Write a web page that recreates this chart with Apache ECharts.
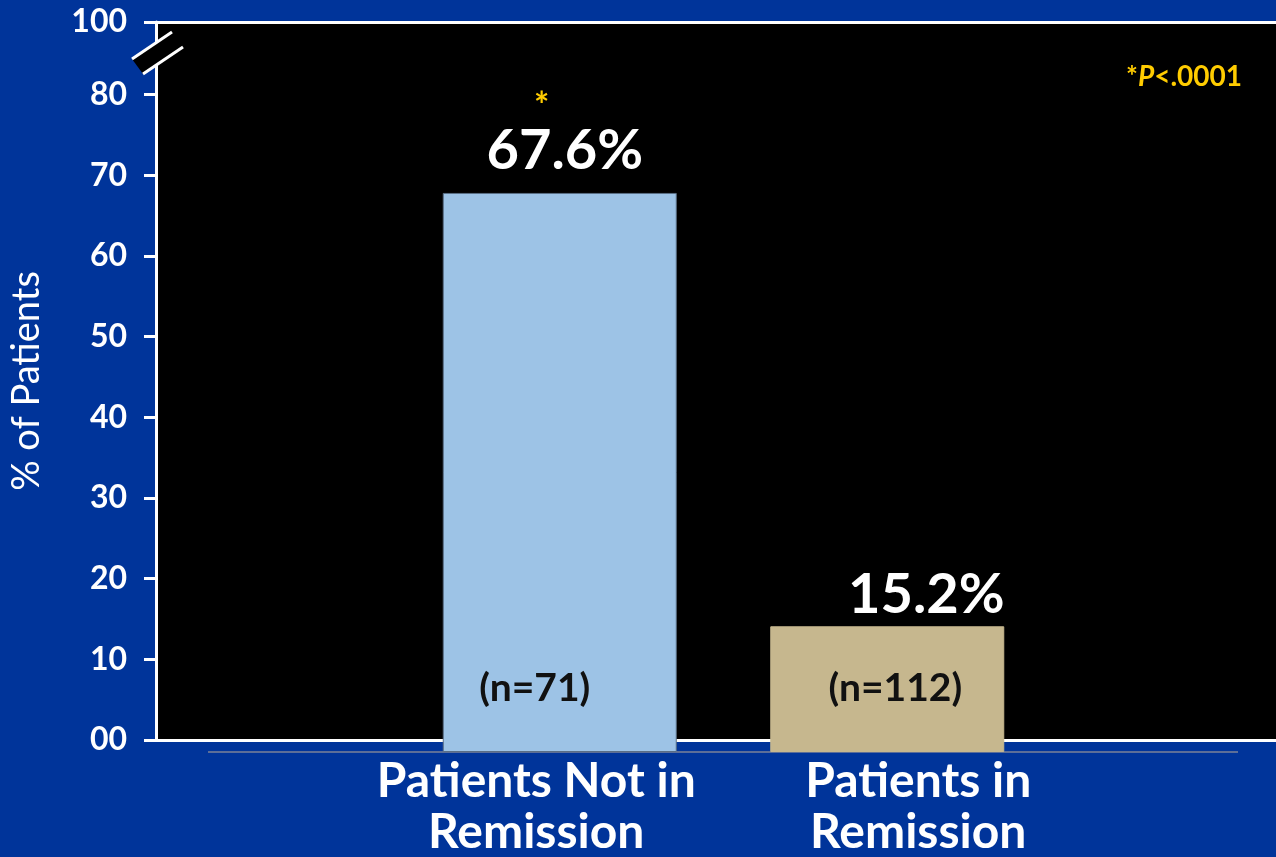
<!DOCTYPE html>
<html>
<head>
<meta charset="utf-8">
<script src="https://cdn.jsdelivr.net/npm/echarts@6/dist/echarts.min.js"></script>
<style>
  html, body { margin: 0; padding: 0; background: #00349A; }
  #chart { width: 1276px; height: 857px; }
</style>
</head>
<body>
<div id="chart"></div>
<script>
// Share of patients, by remission status
const categories = ['Patients Not in\nRemission', 'Patients in\nRemission'];
const percentPatients = [67.6, 15.2];
const sampleSizes = ['(n=71)', '(n=112)'];
const significance = ['*', ''];

// Y axis ticks below the break, and the label above it
const yTickValues = [0, 10, 20, 30, 40, 50, 60, 70, 80];
const yTickLabels = ['00', '10', '20', '30', '40', '50', '60', '70', '80'];
const yTopLabel = '100';

const FONT = 'Lato, "Open Sans", sans-serif';
const WHITE = '#FFFFFF';
const GOLD = '#FFCC00';
const barColors = ['#9DC3E6', '#C6B78E'];
const barBorders = ['#5B6F85', '#C6B78E'];

// Axis value where the compressed top (the "100" mark) sits
const AXIS_TOP = 89;

const chart = echarts.init(document.getElementById('chart'), null, { renderer: 'canvas' });

const tickValuesAll = yTickValues.concat([AXIS_TOP]);

const valueLabelShift = [5, 39];
const valueLabelDistance = [12, 1];
const countLabelShift = [-25, 8];

const option = {
  backgroundColor: '#00349A',
  animation: false,
  textStyle: { fontFamily: FONT },
  title: {
    text: '{s|*}{p|P}{s|<.0001}',
    right: 29,
    top: 58,
    textStyle: {
      rich: {
        s: { color: GOLD, fontSize: 28, fontWeight: 'bold', fontFamily: FONT },
        p: { color: GOLD, fontSize: 28, fontWeight: 'bold', fontStyle: 'italic', fontFamily: FONT }
      }
    }
  },
  grid: [
    // framed axis area with black background
    { left: 156, top: 22, right: 0, bottom: 117, show: true, backgroundColor: '#000000', borderWidth: 0, outerBoundsMode: 'none' },
    // bar area
    { left: 396, width: 655, top: 90.4, bottom: 105, outerBoundsMode: 'none' }
  ],
  xAxis: [
    {
      gridIndex: 0, type: 'value', min: 0, max: 1, position: 'bottom',
      axisLine: { show: true, lineStyle: { color: WHITE, width: 3 } },
      axisTick: { show: false }, axisLabel: { show: false }, splitLine: { show: false }
    },
    {
      gridIndex: 0, type: 'value', min: 0, max: 1, position: 'top',
      axisLine: { show: true, lineStyle: { color: WHITE, width: 3 } },
      axisTick: { show: false }, axisLabel: { show: false }, splitLine: { show: false }
    },
    {
      gridIndex: 1, type: 'category',
      data: categories.map((c, i) => ({
        value: c,
        textStyle: { padding: i === 0 ? [0, 47, 0, 0] : [0, 0, 0, 62] }
      })),
      axisLine: { show: false }, axisTick: { show: false },
      axisLabel: {
        color: WHITE, fontSize: 48, fontWeight: 'bold', fontFamily: FONT,
        lineHeight: 51, margin: 4, interval: 0
      }
    }
  ],
  yAxis: [
    {
      gridIndex: 0, type: 'value', min: 0, max: AXIS_TOP,
      name: '% of Patients', nameLocation: 'middle', nameRotate: 90, nameGap: 110,
      nameTextStyle: { color: WHITE, fontSize: 38, fontFamily: FONT },
      axisLine: { show: true, lineStyle: { color: WHITE, width: 3 } },
      axisTick: {
        show: true, inside: false, length: 12, customValues: tickValuesAll,
        lineStyle: { color: WHITE, width: 3 }
      },
      axisLabel: {
        show: true, customValues: tickValuesAll, margin: 29,
        color: WHITE, fontSize: 32, fontWeight: 'bold', fontFamily: FONT,
        formatter: (v) => {
          const i = yTickValues.indexOf(v);
          return i >= 0 ? yTickLabels[i] : yTopLabel;
        }
      },
      splitLine: { show: false }
    },
    {
      gridIndex: 1, type: 'value', min: 0, max: 80, show: false
    }
  ],
  series: [
    {
      type: 'bar', xAxisIndex: 2, yAxisIndex: 1, barWidth: 234,
      z: 3,
      data: percentPatients.map((v, i) => ({
        value: v,
        itemStyle: { color: barColors[i], borderColor: barBorders[i], borderWidth: 1 },
        label: { offset: [valueLabelShift[i], 0], distance: valueLabelDistance[i] }
      })),
      label: {
        show: true, position: 'top',
        formatter: (p) => {
          const txt = '{v|' + p.value.toFixed(1) + '%}';
          return significance[p.dataIndex] ? '{s|' + significance[p.dataIndex] + '}\n' + txt : txt;
        },
        rich: {
          v: { color: WHITE, fontSize: 56, fontWeight: 'bold', fontFamily: FONT, lineHeight: 60 },
          s: { color: GOLD, fontSize: 36, fontWeight: 'bold', fontFamily: FONT, lineHeight: 30, padding: [0, 46, 0, 0] }
        }
      }
    },
    {
      type: 'bar', xAxisIndex: 2, yAxisIndex: 1, barWidth: 234, barGap: '-100%',
      z: 4, silent: true,
      itemStyle: { color: 'rgba(0,0,0,0)' },
      data: percentPatients.map((v, i) => ({
        value: v,
        label: { offset: [countLabelShift[i], 0] }
      })),
      label: {
        show: true, position: 'insideBottom', distance: 46,
        formatter: (p) => sampleSizes[p.dataIndex],
        color: '#111111', fontSize: 39, fontWeight: 'bold', fontFamily: FONT, lineHeight: 36
      }
    }
  ],
  graphic: [
    // thin baseline under the bars
    {
      type: 'line', z: 1,
      shape: { x1: 208, y1: 752, x2: 1238, y2: 752 },
      style: { stroke: '#5C6E98', lineWidth: 2 }
    },
    // axis break mark
    {
      type: 'polygon', z: 10,
      shape: { points: [[132, 59], [172, 32], [183, 47], [143, 74]] },
      style: { fill: '#000000' }
    },
    {
      type: 'line', z: 11,
      shape: { x1: 132, y1: 59, x2: 172, y2: 32 },
      style: { stroke: WHITE, lineWidth: 3 }
    },
    {
      type: 'line', z: 11,
      shape: { x1: 143, y1: 74, x2: 183, y2: 47 },
      style: { stroke: WHITE, lineWidth: 3 }
    }
  ]
};

chart.setOption(option);
</script>
</body>
</html>
